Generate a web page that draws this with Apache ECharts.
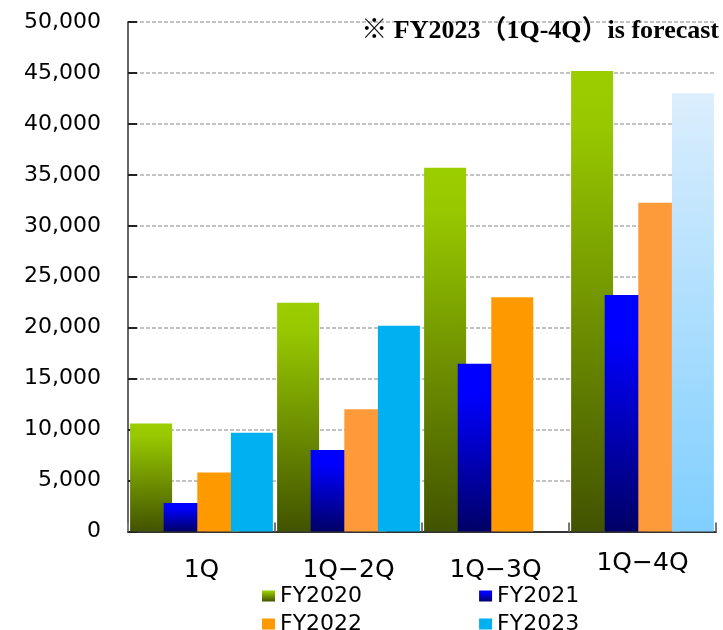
<!DOCTYPE html>
<html>
<head>
<meta charset="utf-8">
<script src="https://cdn.jsdelivr.net/npm/echarts@6/dist/echarts.min.js"></script>
<style>
  html, body { margin: 0; padding: 0; background: #fff; }
  #chart { width: 723px; height: 630px; }
</style>
</head>
<body>
<div id="chart"></div>
<script>
// Cumulative results by fiscal year
const periods = ['1Q', '1Q\u22122Q', '1Q\u22123Q', '1Q\u22124Q'];
const fy2020 = [10600, 22450, 35700, 45200];
const fy2021 = [2800, 8000, 16450, 23200];
const fy2022 = [5800, 12000, 23000, 32250];
const fy2023 = [9700, 20200, null, 43000];
const yTicks = [0, 5000, 10000, 15000, 20000, 25000, 30000, 35000, 40000, 45000, 50000];
const seriesNames = ['FY2020', 'FY2021', 'FY2022', 'FY2023'];

const grad = (stops) => new echarts.graphic.LinearGradient(0, 0, 0, 1,
  stops.map(([o, c]) => ({ offset: o, color: c })));

const greenFill = grad([[0, '#9bce00'], [0.12, '#97c800'], [1, '#425300']]);
const blueFill = grad([[0, '#0000ff'], [0.18, '#0000ff'], [1, '#000066']]);
const forecastFill = grad([[0, '#dbeefd'], [1, '#80cfff']]);
const orangeShades = ['#ff9900', '#ff9a3a', '#ff9900', '#ff9a3a'];

const baseFont = 'DejaVu Sans';

const chart = echarts.init(document.getElementById('chart'), null, { renderer: 'canvas' });

chart.setOption({
  animation: false,
  backgroundColor: '#ffffff',
  title: {
    text: '\u203B FY2023\uFF081Q-4Q\uFF09is forecast',
    right: 4,
    top: 18,
    padding: 0,
    textStyle: {
      fontFamily: '"Liberation Serif", "Noto Sans CJK JP", serif',
      fontWeight: 'bold',
      fontSize: 26,
      color: '#000'
    }
  },
  legend: [
    {
      data: seriesNames.slice(0, 2),
      left: 262, top: 585, padding: 0,
      itemWidth: 13, itemHeight: 11, itemGap: 117,
      icon: 'rect',
      textStyle: { fontFamily: baseFont, fontSize: 22, color: '#000' }
    },
    {
      data: seriesNames.slice(2, 4),
      left: 262, top: 613, padding: 0,
      itemWidth: 13, itemHeight: 11, itemGap: 117,
      icon: 'rect',
      textStyle: { fontFamily: baseFont, fontSize: 22, color: '#000' }
    }
  ],
  grid: { left: 128, right: 7, top: 22, bottom: 98.5, containLabel: false },
  xAxis: {
    type: 'category',
    data: periods.map((p, i) => i === 3
      ? { value: p, textStyle: { lineHeight: 12 } }
      : p),
    axisLine: { lineStyle: { color: '#333', width: 2 } },
    axisTick: { show: true, inside: true, length: 9, lineStyle: { color: '#777', width: 2 } },
    axisLabel: {
      fontFamily: baseFont, fontSize: 25, color: '#000',
      margin: 26, lineHeight: 26, verticalAlign: 'top'
    },
    splitLine: { show: false }
  },
  yAxis: {
    type: 'value',
    min: yTicks[0],
    max: yTicks[yTicks.length - 1],
    interval: yTicks[1] - yTicks[0],
    axisLine: { show: true, lineStyle: { color: '#666', width: 2 } },
    axisTick: { show: true, inside: true, length: 9, lineStyle: { color: '#222', width: 2 } },
    axisLabel: {
      fontFamily: baseFont, fontSize: 22, color: '#000', margin: 27,
      formatter: (v) => v.toLocaleString('en-US')
    },
    splitLine: { show: true, lineStyle: { color: '#b0b0b0', type: [4, 2], width: 1.5 } }
  },
  series: [
    {
      name: 'FY2020', type: 'bar', barWidth: 42, barGap: '-20%',
      itemStyle: { color: greenFill },
      data: fy2020
    },
    {
      name: 'FY2021', type: 'bar', barWidth: 42, barGap: '-20%',
      itemStyle: { color: blueFill },
      data: fy2021
    },
    {
      name: 'FY2022', type: 'bar', barWidth: 42, barGap: '-20%',
      itemStyle: { color: '#ff9900' },
      data: fy2022.map((v, i) => ({ value: v, itemStyle: { color: orangeShades[i] } }))
    },
    {
      name: 'FY2023', type: 'bar', barWidth: 42, barGap: '-20%',
      itemStyle: { color: '#00b0f0' },
      data: fy2023.map((v, i) => i === 3
        ? { value: v, itemStyle: { color: forecastFill } }
        : v)
    }
  ]
});
</script>
</body>
</html>
